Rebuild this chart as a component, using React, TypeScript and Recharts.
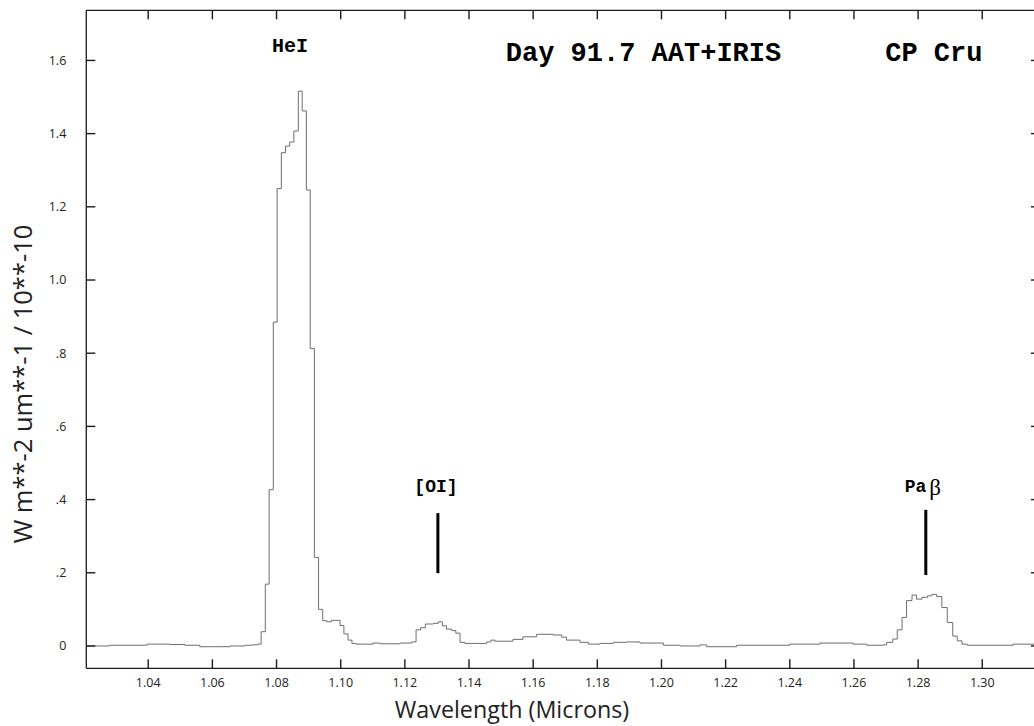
import { LineChart, Line, XAxis, YAxis, ReferenceLine, ReferenceDot } from "recharts";

// spectrum (step histogram): wavelength in microns, flux in W m^-2 um^-1 / 1e-10
const wavelength = [
  1.0207, 1.028, 1.0396, 1.0468, 1.0514, 1.0561, 1.0608, 1.0655, 1.0701, 1.0723,
  1.074, 1.0752, 1.0765, 1.0777, 1.079, 1.0802, 1.0815, 1.0828, 1.0841, 1.0854,
  1.0868, 1.088, 1.0893, 1.0905, 1.0918, 1.0931, 1.0944, 1.0957, 1.0971, 1.0998,
  1.101, 1.1023, 1.1035, 1.1048, 1.11, 1.1122, 1.1185, 1.1221, 1.1235, 1.1249,
  1.1264, 1.1289, 1.1304, 1.1317, 1.133, 1.1346, 1.1359, 1.1372, 1.1387, 1.1455,
  1.1468, 1.1481, 1.1537, 1.1568, 1.1611, 1.1662, 1.1689, 1.1704, 1.1746, 1.1772,
  1.1808, 1.185, 1.1891, 1.1933, 1.2006, 1.2058, 1.212, 1.2141, 1.2234, 1.24,
  1.2494, 1.2598, 1.264, 1.2691, 1.2702, 1.2721, 1.2735, 1.275, 1.2764, 1.2781,
  1.2795, 1.2812, 1.2829, 1.2843, 1.2858, 1.2874, 1.2891, 1.2908, 1.2922, 1.2937,
  1.2953, 1.3096, 1.318,
];
const flux = [
  0.0, 0.002, 0.005, 0.004, 0.002, -0.002, -0.002, 0.0, 0.002, 0.003,
  0.005, 0.039, 0.169, 0.427, 0.885, 1.25, 1.348, 1.366, 1.377, 1.407,
  1.516, 1.462, 1.246, 0.813, 0.242, 0.1, 0.069, 0.066, 0.07, 0.056,
  0.033, 0.016, 0.007, 0.005, 0.008, 0.006, 0.008, 0.011, 0.044, 0.05,
  0.06, 0.062, 0.066, 0.055, 0.046, 0.042, 0.035, 0.01, 0.007, 0.011,
  0.016, 0.013, 0.018, 0.025, 0.032, 0.03, 0.024, 0.016, 0.01, 0.005,
  0.007, 0.01, 0.011, 0.008, 0.002, 0.0, 0.003, -0.002, 0.002, 0.005,
  0.008, 0.005, 0.002, 0.003, 0.01, 0.019, 0.044, 0.078, 0.124, 0.139,
  0.128, 0.133, 0.137, 0.141, 0.135, 0.105, 0.064, 0.027, 0.014, 0.005,
  0.002, 0.005, 0.005,
];

const xTicks = [1.04, 1.06, 1.08, 1.1, 1.12, 1.14, 1.16, 1.18, 1.2, 1.22, 1.24, 1.26, 1.28, 1.3];
const yTicks = [0, 0.2, 0.4, 0.6, 0.8, 1.0, 1.2, 1.4, 1.6];
const yTickLabels = ["0", ".2", ".4", ".6", ".8", "1.0", "1.2", "1.4", "1.6"];

// line identification markers
const markerNames = ["[OI]", "Pa"];
const markerWavelength = [1.1303, 1.2824];
const markerLow = [0.199, 0.194];
const markerHigh = [0.363, 0.372];

const xDomain = [1.0207, 1.318];
const yDomain = [-0.061, 1.737];

const CHART_W = 1060;
const CHART_H = 726;
const MARGIN = { top: 0.3, left: 26.3, right: 10, bottom: 17.7 };
const X_AXIS_H = 40;
const TOP_AXIS_H = 10;
const Y_AXIS_W = 60;
const RIGHT_AXIS_W = 10;
const plotW = CHART_W - MARGIN.left - MARGIN.right - Y_AXIS_W - RIGHT_AXIS_W;
const plotH = CHART_H - MARGIN.top - MARGIN.bottom - X_AXIS_H - TOP_AXIS_H;

// inward tick length (9px) expressed in data units
const TICK_PX = 9;
const tickX = (TICK_PX * (xDomain[1] - xDomain[0])) / plotW;
const tickY = (TICK_PX * (yDomain[1] - yDomain[0])) / plotH;

const AXIS = "#1a1a1a";
const SANS = "'Open Sans', 'Liberation Sans', sans-serif";
const MONO = "'Liberation Mono', 'Courier New', monospace";

const data = wavelength.map((w, i) => ({ w, flux: flux[i] }));

const axisLineStyle = { stroke: AXIS, strokeWidth: 1.3 };
const tickFont = { fontFamily: SANS, fontSize: 12.5, fill: "#222" };

const textLabel = (text: any, size: number, font = MONO) => (props: any) => {
  const vb = props.viewBox;
  return (
    <text
      x={vb.x + vb.width / 2}
      y={vb.y + vb.height / 2}
      textAnchor="middle"
      dominantBaseline="central"
      fontFamily={font}
      fontWeight="bold"
      fontSize={size}
      fill="#000"
    >
      {text}
    </text>
  );
};

export default function App() {
  return (
    <div style={{ position: "absolute", left: 0, top: 0, width: 1034, height: 726, overflow: "hidden", background: "#fff" }}>
      <LineChart width={CHART_W} height={CHART_H} data={data} margin={MARGIN}>
        <XAxis
          dataKey="w"
          type="number"
          domain={xDomain}
          ticks={xTicks}
          allowDataOverflow
          height={X_AXIS_H}
          tickSize={0}
          tickMargin={10}
          tickLine={false}
          axisLine={axisLineStyle}
          tick={tickFont}
          tickFormatter={(v: number) => v.toFixed(2)}
          interval={0}
        />
        <XAxis
          xAxisId="top"
          dataKey="w"
          orientation="top"
          type="number"
          domain={xDomain}
          ticks={xTicks}
          allowDataOverflow
          height={TOP_AXIS_H}
          tickLine={false}
          axisLine={axisLineStyle}
          tick={false}
        />
        <YAxis
          type="number"
          domain={yDomain}
          ticks={yTicks}
          allowDataOverflow
          width={Y_AXIS_W}
          tickSize={0}
          tickMargin={20}
          tickLine={false}
          axisLine={axisLineStyle}
          tick={tickFont}
          tickFormatter={(v: number) => yTickLabels[yTicks.indexOf(v)]}
          interval={0}
        />
        <YAxis
          yAxisId="right"
          orientation="right"
          type="number"
          domain={yDomain}
          ticks={yTicks}
          allowDataOverflow
          width={RIGHT_AXIS_W}
          tickLine={false}
          axisLine={axisLineStyle}
          tick={false}
        />
        <Line
          type="stepAfter"
          dataKey="flux"
          stroke="#6e6e6e"
          strokeWidth={1}
          dot={false}
          isAnimationActive={false}
        />
        {/* inward tick marks on all four sides */}
        {xTicks.map((t) => (
          <ReferenceLine
            key={`b${t}`}
            ifOverflow="visible"
            segment={[{ x: t, y: yDomain[0] }, { x: t, y: yDomain[0] + tickY }]}
            stroke={AXIS}
            strokeWidth={1.4}
          />
        ))}
        {xTicks.map((t) => (
          <ReferenceLine
            key={`t${t}`}
            ifOverflow="visible"
            segment={[{ x: t, y: yDomain[1] }, { x: t, y: yDomain[1] - tickY }]}
            stroke={AXIS}
            strokeWidth={1.4}
          />
        ))}
        {yTicks.map((t) => (
          <ReferenceLine
            key={`l${t}`}
            ifOverflow="visible"
            segment={[{ x: xDomain[0], y: t }, { x: xDomain[0] + tickX, y: t }]}
            stroke={AXIS}
            strokeWidth={1.4}
          />
        ))}
        {yTicks.map((t) => (
          <ReferenceLine
            key={`r${t}`}
            ifOverflow="visible"
            segment={[{ x: xDomain[1], y: t }, { x: xDomain[1] - tickX, y: t }]}
            stroke={AXIS}
            strokeWidth={1.4}
          />
        ))}
        {markerWavelength.map((w, i) => (
          <ReferenceLine
            key={markerNames[i]}
            segment={[{ x: w, y: markerLow[i] }, { x: w, y: markerHigh[i] }]}
            stroke="#000"
            strokeWidth={3}
          />
        ))}
        <ReferenceDot x={1.0842} y={1.639} r={1} fill="none" stroke="none" label={textLabel("HeI", 20)} />
        <ReferenceDot x={1.1944} y={1.617} r={1} fill="none" stroke="none" label={textLabel("Day 91.7 AAT+IRIS", 27)} />
        <ReferenceDot x={1.2849} y={1.617} r={1} fill="none" stroke="none" label={textLabel("CP Cru", 27)} />
        <ReferenceDot x={1.1297} y={0.434} r={1} fill="none" stroke="none" label={textLabel("[OI]", 18)} />
        <ReferenceDot
          x={1.2815}
          y={0.434}
          r={1}
          fill="none"
          stroke="none"
          label={textLabel(
            <>
              Pa<tspan fontFamily="'Liberation Serif', serif" fontWeight="normal" fontSize={23} dx={3}>β</tspan>
            </>,
            18
          )}
        />
      </LineChart>
      <div
        style={{
          position: "absolute",
          left: 512,
          top: 709,
          transform: "translate(-50%, -50%)",
          fontFamily: SANS,
          fontSize: 23.3,
          color: "#222",
          whiteSpace: "nowrap",
        }}
      >
        Wavelength (Microns)
      </div>
      <div
        style={{
          position: "absolute",
          left: 22,
          top: 384,
          transform: "translate(-50%, -50%) rotate(-90deg)",
          fontFamily: SANS,
          fontSize: 25.5,
          color: "#222",
          whiteSpace: "nowrap",
        }}
      >
        W m**-2 um**-1 / 10**-10
      </div>
    </div>
  );
}
